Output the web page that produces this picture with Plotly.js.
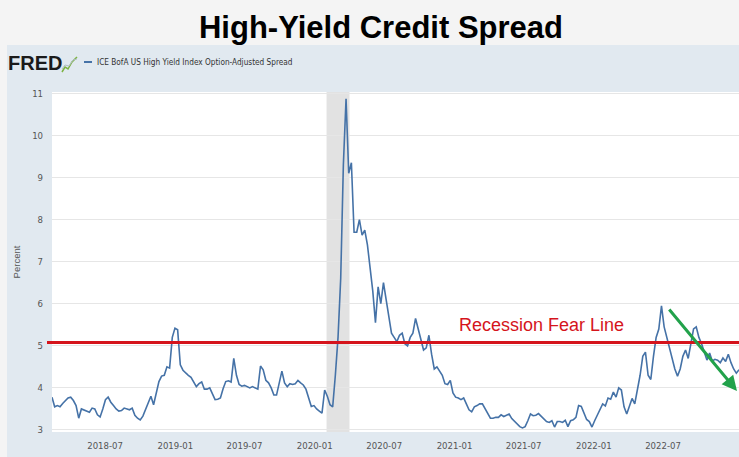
<!DOCTYPE html>
<html>
<head>
<meta charset="utf-8">
<script src="https://cdn.plot.ly/plotly-3.0.1.min.js"></script>
<style>html,body{margin:0;padding:0;background:#f4f4f4;}#chart{width:739px;height:457px;}</style>
</head>
<body>
<div id="chart"></div>
<script>
// ---- DATA (weekly readings of ICE BofA US High Yield OAS, percent) ----
const seriesName = 'ICE BofA US High Yield Index Option-Adjusted Spread';
const chartTitle = 'High-Yield Credit Spread';
const yAxisLabel = 'Percent';
const fearLineLabel = 'Recession Fear Line';
const fearLineLevel = 5.08;
const recessionStart = '2020-02-01';
const recessionEnd = '2020-04-01';

const start2018 = '2018-02-12';
const spread2018 = [3.78,3.55,3.58,3.55,3.63,3.70,3.76,3.78,3.70,3.58,3.28,3.50,3.47,3.45,3.42,3.52,3.50,3.36,3.31,3.50,
  3.72,3.78,3.66,3.58,3.50,3.45,3.46,3.52,3.50,3.48,3.52,3.35,3.28,3.24,3.33,3.50,3.65,3.80,3.60,3.85,
  4.15,4.28,4.30,4.50,4.47,5.20];
const start2019 = '2018-12-31';
const spread2019 = [5.42,5.38,4.55,4.42,4.35,4.30,4.25,4.15,4.03,4.10,4.14,3.97,3.97,4.00,3.85,3.72,3.73,3.76,3.98,4.15,
  4.17,4.14,4.70,4.30,4.08,4.04,4.06,4.02,4.00,4.03,4.00,3.97,4.52,4.43,4.18,4.12,4.00,3.83,3.83,4.10,
  4.40,4.12,4.03,4.10,4.08,4.10,4.18,4.12,4.07,3.97,3.75,3.56];
const start2020 = '2019-12-30';
const spread2020 = [3.58,3.50,3.45,3.40,3.95,3.80,3.60,3.55,4.30,5.20,6.60,9.30,10.87,9.10,9.35,7.70,7.70,8.00,7.63,7.75,
  7.40,6.90,6.30,5.55,6.40,6.00,6.50,6.10,5.70,5.30,5.20,5.10,5.25,5.30,5.05,5.00,5.20,5.30,5.65,5.40,
  5.15,4.90,4.95,5.25,4.80,4.45,4.50,4.40,4.30,4.10,4.08,4.18];
const start2021 = '2020-12-28';
const spread2021 = [3.88,3.78,3.76,3.72,3.76,3.62,3.48,3.43,3.55,3.58,3.62,3.62,3.50,3.40,3.28,3.28,3.30,3.30,3.36,3.32,
  3.36,3.38,3.27,3.20,3.14,3.08,3.05,3.08,3.22,3.38,3.34,3.35,3.39,3.32,3.26,3.20,3.18,3.22,3.07,3.20,
  3.20,3.18,3.23,3.08,3.22,3.24,3.30,3.58,3.56,3.38,3.25,3.20];
const start2022 = '2021-12-27';
const spread2022 = [3.07,3.22,3.36,3.52,3.62,3.57,3.76,3.73,3.90,3.78,4.00,3.95,3.55,3.38,3.55,3.75,3.62,3.95,4.30,4.75,
  4.85,4.30,4.20,4.75,5.20,5.40,5.95,5.45,5.20,4.92,4.70,4.45,4.28,4.45,4.75,4.90,4.70,5.10,5.40,5.45,
  5.20,5.05,4.88,4.66,4.83,4.64,4.68,4.66,4.60,4.71,4.63,4.80,4.60,4.45,4.35,4.43];

const segments = [[start2018, spread2018],[start2019, spread2019],[start2020, spread2020],[start2021, spread2021],[start2022, spread2022]];
const xDates = [], yVals = [];
segments.forEach(([s, vals]) => {
  const t0 = Date.parse(s + 'T00:00:00Z');
  vals.forEach((v, k) => {
    xDates.push(new Date(t0 + k * 7 * 86400000).toISOString().slice(0, 10));
    yVals.push(v);
  });
});

// ---- LAYOUT ----
const W = 739, H = 457, L = 52, R = 0, T = 92, B = 25;
const pw = W - L - R, ph = H - T - B;
const px = x => (x - L) / pw;
const py = y => (H - B - y) / ph;
const pathFrom = pts => pts.map((p, i) => (i ? 'L' : 'M') + px(p[0]).toFixed(5) + ',' + py(p[1]).toFixed(5)).join(' ');

const panel = '#e1e9f0';
const shapes = [
  {type:'rect', xref:'paper', yref:'paper', x0:px(7), x1:px(739), y0:py(92), y1:py(45), fillcolor:panel, line:{width:0}, layer:'below'},
  {type:'rect', xref:'paper', yref:'paper', x0:px(7), x1:px(52), y0:py(457), y1:py(92), fillcolor:panel, line:{width:0}, layer:'below'},
  {type:'rect', xref:'paper', yref:'paper', x0:px(52), x1:px(739), y0:py(457), y1:py(432), fillcolor:panel, line:{width:0}, layer:'below'},
  {type:'rect', xref:'x', yref:'paper', x0:recessionStart, x1:recessionEnd, y0:0, y1:1, fillcolor:'#e2e2e2', line:{width:0}, layer:'below'},
  {type:'line', xref:'paper', yref:'y', x0:px(47), x1:1, y0:fearLineLevel, y1:fearLineLevel, line:{color:'#d5141c', width:3}},
  {type:'line', xref:'paper', yref:'paper', x0:px(84), x1:px(92), y0:py(62), y1:py(62), line:{color:'#4572a7', width:2}},
  {type:'path', xref:'paper', yref:'paper', path:pathFrom([[62,72],[65,67],[68,69],[72,62],[77,57]]), line:{color:'#7cb342', width:1.5}},
  {type:'path', xref:'paper', yref:'paper', path:pathFrom([[62,69],[65,65],[69,66],[73,60],[77,59]]), line:{color:'#b0bec5', width:1}}
];

const narrow = "'Liberation Sans Narrow', 'DejaVu Sans Condensed', 'Liberation Sans', sans-serif";
const annotations = [
  {xref:'paper', yref:'paper', x:px(541), y:py(325), text:fearLineLabel, showarrow:false,
   font:{family:"'Liberation Sans', Arial, sans-serif", size:18, color:'#d5141c'}, xanchor:'center', yanchor:'middle'},
  {xref:'paper', yref:'paper', x:px(737), y:py(391), ax:-69, ay:-83, text:'', showarrow:true,
   arrowcolor:'#22a24b', arrowwidth:3, arrowhead:2, arrowsize:1, standoff:0},
  {xref:'paper', yref:'paper', x:px(6), y:py(63), text:'<b>FRED</b>', showarrow:false, xanchor:'left', yanchor:'middle',
   font:{family:"'Liberation Sans', Arial, sans-serif", size:20, color:'#1a1a1a'}},
  {xref:'paper', yref:'paper', x:px(95), y:py(62), text:seriesName, showarrow:false, xanchor:'left', yanchor:'middle',
   font:{family:narrow, size:8.2, color:'#333333'}}
];

const trace = {
  x: xDates, y: yVals, type:'scatter', mode:'lines', name:seriesName,
  line:{color:'#4572a7', width:1.6}, hoverinfo:'skip', showlegend:false
};

const layout = {
  width:W, height:H,
  margin:{l:L, r:R, t:T, b:B, pad:0},
  paper_bgcolor:'#f4f4f4', plot_bgcolor:'#ffffff',
  title:{text:'<b>' + chartTitle + '</b>', x:381/W, xanchor:'center', y:1 - 27/H, yanchor:'middle',
         font:{family:"'Liberation Sans', Arial, sans-serif", size:31, color:'#000000'}},
  xaxis:{type:'date', range:['2018-02-12','2023-01-16'], tick0:'2018-07-01', dtick:'M6', tickformat:'%Y-%m',
         showgrid:false, zeroline:false, showline:false, ticks:'', ticklabelstandoff:6,
         tickfont:{family:narrow, size:9.5, color:'#555555'}},
  yaxis:{range:[2.952, 11.031], dtick:1, tick0:0, showgrid:true, gridcolor:'#e6e6e6', gridwidth:1,
         zeroline:false, showline:false, ticks:'', ticklabelstandoff:8,
         tickfont:{family:narrow, size:9.5, color:'#555555'},
         title:{text:yAxisLabel, standoff:9, font:{family:"'Liberation Sans', sans-serif", size:9.5, color:'#555555'}}},
  shapes:shapes, annotations:annotations, showlegend:false
};

Plotly.newPlot('chart', [trace], layout, {displayModeBar:false, staticPlot:true});
</script>
</body>
</html>
